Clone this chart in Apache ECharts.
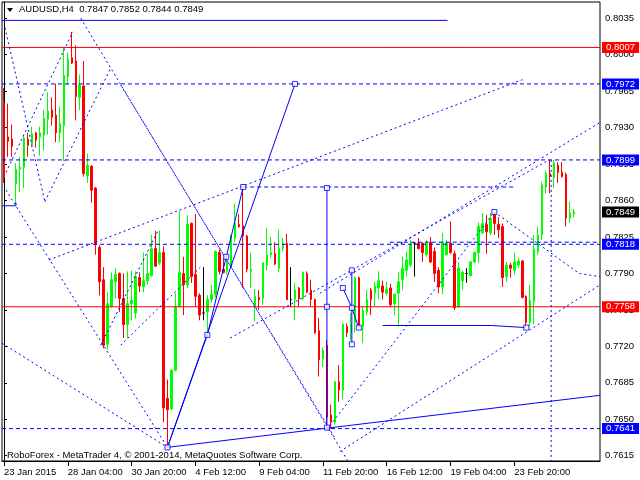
<!DOCTYPE html>
<html><head><meta charset="utf-8">
<script src="https://cdn.jsdelivr.net/npm/echarts@6/dist/echarts.min.js"></script>
<style>html,body{margin:0;padding:0;background:#fff}#c{width:640px;height:480px}</style>
</head><body><div id="c"></div>
<script>
const symbolName = 'AUDUSD,H4';
const tickLabels = ['23 Jan 2015','28 Jan 04:00','30 Jan 20:00','4 Feb 12:00','9 Feb 04:00','11 Feb 20:00','16 Feb 12:00','19 Feb 04:00','23 Feb 20:00'];
const barsPerTick = 16;
const totalSlots = 150;
const opens = [0.7954,0.7921,0.7919,0.7876,0.7890,0.7892,0.7919,0.7914,0.7925,0.7921,0.7923,0.7938,0.7947,0.7942,0.7925,0.7932,0.7979,0.7997,0.7994,0.7959,0.7970,0.7884,0.7893,0.7872,0.7815,0.7784,0.7722,0.7758,0.7782,0.7790,0.7766,0.7741,0.7761,0.7752,0.7786,0.7777,0.7783,0.7788,0.7814,0.7800,0.7810,0.7670,0.7660,0.7697,0.7758,0.7790,0.7779,0.7838,0.7789,0.7769,0.7752,0.7753,0.7765,0.7770,0.7810,0.7794,0.7792,0.7796,0.7824,0.7837,0.7836,0.7826,0.7792,0.7759,0.7767,0.7766,0.7798,0.7808,0.7809,0.7795,0.7814,0.7819,0.7765,0.7765,0.7776,0.7766,0.7790,0.7774,0.7765,0.7735,0.7708,0.7721,0.7654,0.7647,0.7686,0.7678,0.7739,0.7734,0.7743,0.7786,0.7739,0.7753,0.7774,0.7771,0.7776,0.7778,0.7771,0.7776,0.7761,0.7771,0.7784,0.7793,0.7798,0.7819,0.7819,0.7819,0.7808,0.7820,0.7811,0.7793,0.7777,0.7808,0.7819,0.7809,0.7758,0.7783,0.7790,0.7788,0.7801,0.7810,0.7829,0.7837,0.7829,0.7846,0.7837,0.7835,0.7787,0.7798,0.7793,0.7798,0.7802,0.7768,0.7743,0.7763,0.7811,0.7827,0.7873,0.7886,0.7882,0.7894,0.7887,0.7885,0.7843,0.7847];
const closes = [0.7882,0.7917,0.7912,0.7890,0.7892,0.7920,0.7913,0.7924,0.7918,0.7925,0.7939,0.7946,0.7940,0.7925,0.7934,0.7980,0.7996,0.7992,0.7960,0.7971,0.7886,0.7894,0.7870,0.7818,0.7782,0.7721,0.7761,0.7784,0.7789,0.7766,0.7741,0.7761,0.7764,0.7787,0.7778,0.7783,0.7790,0.7814,0.7797,0.7810,0.7661,0.7659,0.7697,0.7758,0.7791,0.7779,0.7837,0.7787,0.7768,0.7750,0.7752,0.7765,0.7770,0.7811,0.7792,0.7791,0.7800,0.7826,0.7838,0.7835,0.7826,0.7794,0.7794,0.7768,0.7765,0.7800,0.7808,0.7810,0.7799,0.7814,0.7819,0.7765,0.7765,0.7774,0.7766,0.7791,0.7772,0.7765,0.7733,0.7707,0.7716,0.7652,0.7647,0.7686,0.7678,0.7741,0.7733,0.7741,0.7786,0.7739,0.7754,0.7765,0.7765,0.7778,0.7783,0.7772,0.7775,0.7760,0.7770,0.7782,0.7795,0.7803,0.7817,0.7819,0.7814,0.7810,0.7819,0.7801,0.7790,0.7777,0.7820,0.7819,0.7810,0.7757,0.7795,0.7791,0.7790,0.7801,0.7810,0.7835,0.7838,0.7830,0.7843,0.7838,0.7832,0.7786,0.7798,0.7795,0.7801,0.7802,0.7767,0.7743,0.7764,0.7813,0.7827,0.7875,0.7886,0.7883,0.7896,0.7887,0.7883,0.7843,0.7848,0.7849];
const lows = [0.7877,0.7902,0.7902,0.7856,0.7868,0.7872,0.7902,0.7911,0.7911,0.7903,0.7908,0.7923,0.7932,0.7916,0.7916,0.7898,0.7971,0.7991,0.7937,0.7947,0.7883,0.7877,0.7858,0.7808,0.7769,0.7718,0.7717,0.7757,0.7766,0.7753,0.7728,0.7728,0.7745,0.7747,0.7772,0.7772,0.7779,0.7787,0.7796,0.7798,0.7647,0.7623,0.7659,0.7696,0.7757,0.7750,0.7776,0.7781,0.7758,0.7745,0.7745,0.7734,0.7762,0.7767,0.7789,0.7790,0.7789,0.7795,0.7820,0.7834,0.7776,0.7791,0.7776,0.7744,0.7755,0.7760,0.7793,0.7805,0.7798,0.7791,0.7811,0.7764,0.7758,0.7745,0.7758,0.7764,0.7771,0.7758,0.7732,0.7691,0.7700,0.7645,0.7641,0.7645,0.7667,0.7669,0.7729,0.7726,0.7733,0.7738,0.7723,0.7750,0.7750,0.7758,0.7765,0.7765,0.7769,0.7758,0.7750,0.7739,0.7774,0.7787,0.7796,0.7787,0.7813,0.7801,0.7806,0.7800,0.7782,0.7771,0.7770,0.7807,0.7809,0.7755,0.7757,0.7774,0.7781,0.7787,0.7800,0.7800,0.7828,0.7809,0.7827,0.7827,0.7824,0.7777,0.7782,0.7786,0.7789,0.7795,0.7766,0.7738,0.7739,0.7741,0.7808,0.7822,0.7867,0.7867,0.7872,0.7877,0.7882,0.7835,0.7839,0.7844];
const highs = [0.7968,0.7953,0.7933,0.7896,0.7902,0.7922,0.7925,0.7931,0.7926,0.7931,0.7947,0.7964,0.7959,0.7972,0.7950,0.8007,0.8002,0.8022,0.8009,0.7981,0.7994,0.7905,0.7894,0.7873,0.7817,0.7796,0.7772,0.7791,0.7795,0.7791,0.7790,0.7792,0.7793,0.7792,0.7791,0.7810,0.7809,0.7827,0.7831,0.7831,0.7816,0.7688,0.7698,0.7771,0.7850,0.7806,0.7846,0.7839,0.7847,0.7771,0.7796,0.7769,0.7779,0.7812,0.7813,0.7805,0.7803,0.7827,0.7857,0.7847,0.7873,0.7827,0.7810,0.7775,0.7774,0.7801,0.7834,0.7825,0.7820,0.7832,0.7824,0.7828,0.7796,0.7781,0.7777,0.7792,0.7792,0.7784,0.7766,0.7747,0.7719,0.7726,0.7664,0.7687,0.7702,0.7743,0.7742,0.7752,0.7787,0.7787,0.7758,0.7774,0.7776,0.7782,0.7792,0.7783,0.7782,0.7780,0.7771,0.7791,0.7806,0.7811,0.7822,0.7820,0.7824,0.7820,0.7822,0.7825,0.7815,0.7796,0.7829,0.7822,0.7840,0.7812,0.7801,0.7793,0.7795,0.7802,0.7811,0.7839,0.7848,0.7846,0.7848,0.7849,0.7844,0.7838,0.7801,0.7800,0.7810,0.7805,0.7803,0.7769,0.7779,0.7827,0.7835,0.7878,0.7889,0.7899,0.7899,0.7897,0.7897,0.7887,0.7859,0.7852];
const yTickValues = [0.7615,0.7650,0.7685,0.7720,0.7755,0.7790,0.7825,0.7860,0.7895,0.7930,0.7965,0.8000,0.8035];
const redLevels = [0.8007, 0.7758];
const blueLevels = [0.7972, 0.7899, 0.7818, 0.7641];
// drawn objects, as [bar index, price] anchor points
const solidPaths = [
  [[-0.5,0.8033],[111.25,0.8033]],
  [[41,0.7623],[73,0.7972]],
  [[41,0.7623],[149.5,0.7673]],
  [[41,0.7623],[51,0.7731],[60,0.7873]],
  [[81,0.7872],[81,0.7642]],
  [[85,0.7776],[87.25,0.7757],[89,0.7738]],
  [[87.25,0.7793],[87.25,0.7722]],
  [[95,0.7740],[122.25,0.7740],[131,0.7738]],
  [[-0.5,0.7855],[3,0.7855],[3,0.7858]]
];
const dottedPaths = [
  [[0.25,0.8026],[10.25,0.7859]],
  [[10.25,0.7859],[26.75,0.7987]],
  [[0.5,0.7887],[17.25,0.8022]],
  [[19.25,0.8035],[86.25,0.7610]],
  [[29.25,0.7971],[83,0.7632]],
  [[-0.5,0.7723],[41,0.7623]],
  [[0.5,0.7870],[41,0.7623]],
  [[11.25,0.7803],[130,0.7976]],
  [[24.25,0.7721],[38.5,0.7830]],
  [[29.25,0.7721],[49.25,0.7796]],
  [[79.25,0.7771],[149.5,0.7935]],
  [[56.75,0.7728],[136.75,0.7899]],
  [[81,0.7640],[123,0.7849]],
  [[123,0.7849],[144.25,0.7790],[149.5,0.7787]],
  [[84.25,0.7619],[149.5,0.7779]],
  [[137.25,0.7899],[137.25,0.7610]]
];
const dashedPaths = [
  [[96.75,0.7820],[149.5,0.7820]],
  [[60,0.7873],[128.5,0.7873]]
];
const anchorPoints = [[41,0.7623],[73,0.7972],[51,0.7731],[60,0.7873],[81,0.7872],[81,0.7758],[81,0.7642],[85,0.7776],[87.25,0.7793],[87.25,0.7757],[87.25,0.7722],[89,0.7738],[131,0.7738],[123,0.7849],[55.75,0.7806]];
const footerText = 'RoboForex - MetaTrader 4, \u00a9 2001-2014, MetaQuotes Software Corp.';

const FONT = 'Liberation Sans';
const FS = 9.5;
const BLUE = '#0000ff', RED = '#ff0000', GREEN = '#00ff00';
const n = opens.length;
const candles = opens.map((o, i) => [o, closes[i], lows[i], highs[i]]);
const cats = Array.from({length: totalSlots}, (_, i) => String(i));
const lastIdx = n - 1;
const xLo = -0.5, xHi = totalSlots - 0.5;
const titleText = symbolName + '  ' + [opens[lastIdx], highs[lastIdx], lows[lastIdx], closes[lastIdx]].map(v => v.toFixed(4)).join(' ');
const isTick = (i) => i % barsPerTick === 0 && i / barsPerTick < tickLabels.length;

const series = [{
  type: 'candlestick', xAxisIndex: 0, yAxisIndex: 0, data: candles, barWidth: 2, z: 2,
  animation: false, silent: true,
  itemStyle: {color: GREEN, color0: RED, borderColor: GREEN, borderColor0: RED, borderColorDoji: '#000000', borderWidth: 1}
}];
const mkLine = (path, type) => ({
  type: 'line', xAxisIndex: 1, yAxisIndex: 0, data: path, symbol: 'none', silent: true, animation: false, z: 3,
  lineStyle: {color: BLUE, width: 1, type: type}
});
const mkLevel = (v, color, type, lineOpacity) => ({
  type: 'line', xAxisIndex: 1, yAxisIndex: 0, data: [[xLo, v], [xHi, v]], symbol: 'none', silent: true, animation: false, z: 3,
  lineStyle: {color: color, width: 1, type: type, opacity: lineOpacity},
  endLabel: {show: true, distance: 2, color: '#ffffff', backgroundColor: color, padding: [1, 4, 0, 4],
    fontSize: FS, fontFamily: FONT, formatter: () => v.toFixed(4)}
});
redLevels.forEach(v => series.push(mkLevel(v, RED, 'solid', 1)));
blueLevels.forEach(v => series.push(mkLevel(v, BLUE, [4, 3], 1)));
series.push(mkLevel(closes[lastIdx], '#000000', 'solid', 0));
solidPaths.forEach(p => series.push(mkLine(p, 'solid')));
dottedPaths.forEach(p => series.push(mkLine(p, [2, 3])));
dashedPaths.forEach(p => series.push(mkLine(p, [4, 3])));
series.push({type: 'scatter', xAxisIndex: 1, yAxisIndex: 0, data: anchorPoints, symbol: 'rect', symbolSize: 5, z: 5,
  silent: true, animation: false, itemStyle: {color: '#ffffff', borderColor: BLUE, borderWidth: 1}});

const chart = echarts.init(document.getElementById('c'), null, {renderer: 'canvas'});
chart.setOption({
  backgroundColor: '#ffffff',
  animation: false,
  textStyle: {fontFamily: FONT},
  grid: {left: 2, top: 2, width: 598, height: 459, show: true, borderColor: '#000000', borderWidth: 1, containLabel: false},
  xAxis: [{
    type: 'category', data: cats, boundaryGap: true,
    axisLine: {show: true, lineStyle: {color: '#000000'}},
    axisTick: {show: true, alignWithLabel: true, length: 5, interval: (i) => isTick(i), lineStyle: {color: '#000000'}},
    axisLabel: {show: true, interval: (i) => isTick(i), align: 'left', margin: 6, color: '#000000', fontSize: FS, fontFamily: FONT,
      formatter: (v, i) => tickLabels[Math.round(i / barsPerTick)]},
    splitLine: {show: false}
  }, {
    type: 'value', min: xLo, max: xHi, show: false, splitLine: {show: false}
  }],
  yAxis: [{
    type: 'value', position: 'right', min: 0.76099, max: 0.805065, scale: true,
    axisLine: {show: true, lineStyle: {color: '#000000'}},
    axisTick: {show: true, length: 3, customValues: yTickValues, lineStyle: {color: '#000000'}},
    axisLabel: {show: true, customValues: yTickValues, margin: 5, color: '#000000', fontSize: FS, fontFamily: FONT,
      formatter: v => Number(v).toFixed(4)},
    splitLine: {show: false}
  }],
  graphic: [
    {type: 'polygon', shape: {points: [[7, 8], [13, 8], [10, 12]]}, style: {fill: '#000000'}, z: 10},
    {type: 'text', left: 19, top: 4, z: 10, style: {text: titleText, font: FS + 'px ' + FONT, fill: '#000000'}},
    {type: 'text', left: 7, top: 450, z: 10, style: {text: footerText, font: FS + 'px ' + FONT, fill: '#000000'}}
  ],
  series: series
});
</script></body></html>
